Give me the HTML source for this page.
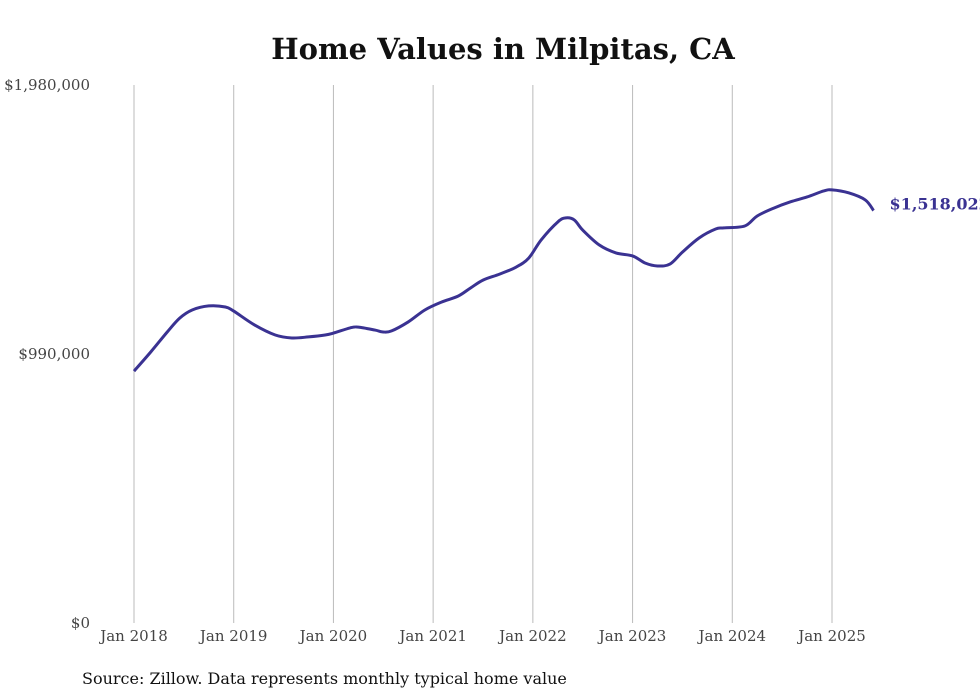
<!DOCTYPE html>
<html><head><meta charset="utf-8"><style>
body{margin:0;background:#fff;}
svg{display:block;font-family:"DejaVu Serif","Liberation Serif",serif;}
</style></head><body>
<svg id="chart" width="980" height="699">
<text x="503" y="59" text-anchor="middle" font-size="29" font-weight="bold" fill="#111">Home Values in Milpitas, CA</text>
<g id="grid"></g><g id="yaxis"></g><g id="xaxis"></g><g id="series"></g>
<text x="82" y="684" font-size="16" fill="#111">Source: Zillow. Data represents monthly typical home value</text>
</svg>
<script>
const xTicks=["Jan 2018","Jan 2019","Jan 2020","Jan 2021","Jan 2022","Jan 2023","Jan 2024","Jan 2025"];
const yTicks=[0,990000,1980000];
const yTickLabels=["$0","$990,000","$1,980,000"];
const months=[0,2,4,5.5,7,9,11,12,14.5,17,19,21,23,24,26,27,29,30,31,33,35,37,39,40.5,42,44,46,47.5,49,51,52,53,54,56,58,60,61.5,63,64.5,66,68,70,71,73.5,75,77,79,81,83,84,86,88,89];
const values=[927,997,1071,1122,1152,1167,1163,1148,1097,1060,1049,1053,1060,1067,1086,1089,1078,1071,1075,1108,1152,1181,1203,1233,1262,1284,1310,1343,1410,1476,1491,1483,1446,1391,1362,1351,1325,1314,1321,1365,1417,1450,1454,1461,1498,1527,1550,1568,1590,1594,1583,1557,1518.022].map(v=>v*1000);
const lastLabel="$1,518,022";
const NS="http://www.w3.org/2000/svg";
const x=m=>134+m*(698/84);
const y=v=>623-v/1980000*538;
function mk(tag,attrs,parent,text){const e=document.createElementNS(NS,tag);for(const k in attrs)e.setAttribute(k,attrs[k]);if(text!==undefined)e.textContent=text;parent.appendChild(e);return e;}
const grid=document.getElementById('grid'),xa=document.getElementById('xaxis'),ya=document.getElementById('yaxis'),se=document.getElementById('series');
xTicks.forEach((t,i)=>{
 const g=mk('line',{x1:x(i*12),x2:x(i*12),y1:85,y2:623,stroke:'#bbb','stroke-width':1},grid);
 
 
 const l=mk('text',{x:x(i*12),y:641,'text-anchor':'middle','font-size':15,fill:'#444'},xa,t);
 
 
});
yTicks.forEach((v,i)=>{
 const l=mk('text',{x:90,y:y(v)+5,'text-anchor':'end','font-size':15,fill:'#444'},ya,yTickLabels[i]);
 
 
});
const pts=months.map((m,i)=>[x(m),y(values[i])]);
let d=`M${pts[0][0]},${pts[0][1]}`;
for(let i=0;i<pts.length-1;i++){
 const p0=pts[Math.max(0,i-1)],p1=pts[i],p2=pts[i+1],p3=pts[Math.min(pts.length-1,i+2)];
 const c1=[p1[0]+(p2[0]-p0[0])/6,p1[1]+(p2[1]-p0[1])/6],c2=[p2[0]-(p3[0]-p1[0])/6,p2[1]-(p3[1]-p1[1])/6];
 d+=`C${c1[0]},${c1[1]} ${c2[0]},${c2[1]} ${p2[0]},${p2[1]}`;
}
const path=mk('path',{d:d,fill:'none',stroke:'#3a3292','stroke-width':3,'stroke-linejoin':'round'},se);


const last=pts[pts.length-1];
const lab=mk('text',{x:last[0]+16,y:last[1]-1,'font-size':16,'font-weight':'bold',fill:'#3a3292'},se,lastLabel);


</script>
</body></html>
